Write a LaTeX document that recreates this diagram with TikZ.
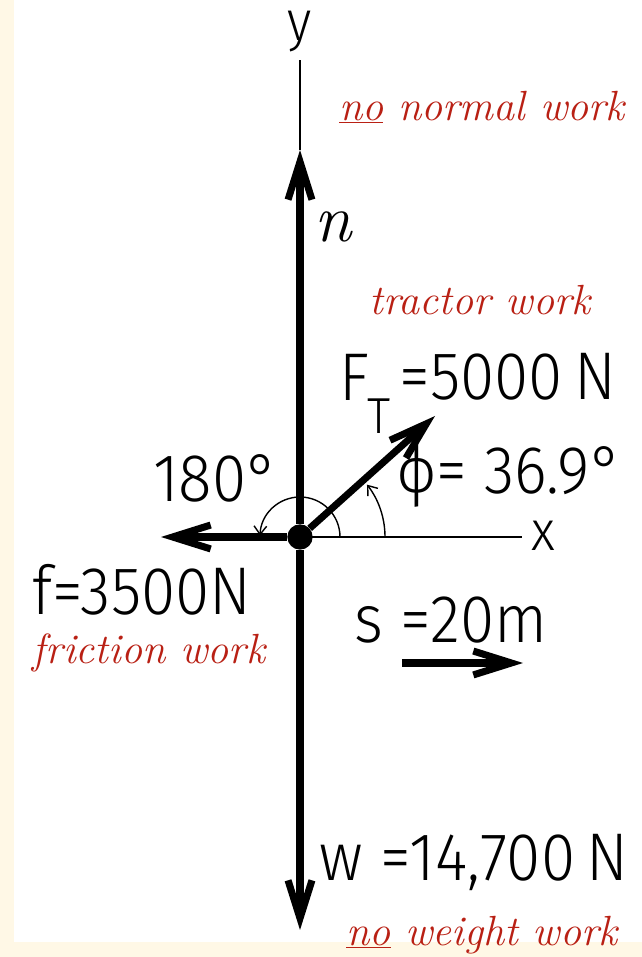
\documentclass[tikz,border=0pt]{standalone}
\usepackage{fontspec}
\usetikzlibrary{arrows.meta,positioning}
\newfontfamily\handfont{Fira Sans}[UprightFont=* Light, FakeStretch=0.92]
\definecolor{workred}{RGB}{185,32,20}
\definecolor{paper}{RGB}{255,248,230}
\newcommand\bigfont{\handfont\fontsize{48}{54}\selectfont}
\newcommand\axfont{\handfont\fontsize{40}{44}\selectfont}
\newcommand\workfont{\itshape\fontsize{30}{36}\selectfont}

\begin{document}
\begin{tikzpicture}[x=0.025cm,y=0.025cm,
    vec/.style={line width=5pt,-{Straight Barb[length=27pt,width=17pt]}},
    axis/.style={line width=1.4pt},
    angarc/.style={line width=1pt,-{Straight Barb[length=6pt,width=9pt]}},
    lbl/.style={inner sep=0pt,font=\bigfont},
    work/.style={inner sep=0pt,text=workred,font=\workfont}]
    \useasboundingbox (0,0) rectangle (642,957);
    \fill[paper] (0,0) rectangle (642,957);
    \fill[white] (14,15) rectangle (642,957);

    % origin and vector tips
    \node[circle,fill,minimum size=18pt,inner sep=0pt] (O) at (300,420) {};
    \coordinate (ytop) at (300,897);
    \coordinate (xend) at (522,420);
    \coordinate (ntip) at (300,807);
    \coordinate (wtip) at (300,27);
    \coordinate (ftip) at (161,420);
    \coordinate (Ttip) at (435,541);

    % axes
    \draw[axis] (ntip) -- (ytop);
    \draw[axis] (O.center) -- (xend);
    \node[inner sep=0pt,font=\axfont] (ylab) at (300,925) {y};
    \node[inner sep=0pt,font=\axfont] (xlab) at (543,421) {x};

    % forces
    \draw[vec] (O) -- (ntip);
    \draw[vec] (O) -- (wtip);
    \draw[vec] (O) -- (ftip);
    \draw[vec] (O) -- (Ttip);

    % angles
    \draw[angarc] ([shift={(0:85)}]O.center) arc (0:38:85);
    \draw[angarc] ([shift={(0:40)}]O.center) arc (0:178:40);

    % displacement
    \coordinate (s0) at (402,294);
    \coordinate (s1) at (523,294);
    \draw[vec] (s0) -- (s1);

    % labels
    \node[inner sep=0pt,font=\itshape\fontsize{48}{54}\selectfont] (nlab) at (333,730) {n};
    \node[lbl] (Flab) at (354,580) {F};
    \node[inner sep=0pt,font=\handfont\fontsize{36}{40}\selectfont] (Tsub) at (379,541) {T};
    \node[lbl] (FTval) at (508,580) {=5000\,N};
    \node[lbl] (philab) at (510,482) {ϕ= 36.9°};
    \node[lbl] (ang180) at (216,479) {180°};
    \node[lbl] (flab) at (142,367) {f=3500N};
    \node[lbl] (slab) at (451,337) {s =20m};
    \node[lbl] (wlab) at (474,95) {w =14,700\,N};

    \node[work] (nowork) at (482,850) {\underline{no} normal work};
    \node[work] (trwork) at (480,657) {tractor work};
    \node[work] (frwork) at (149,304) {friction work};
    \node[work] (wwork) at (482,22) {\underline{no} weight work};
\end{tikzpicture}
\end{document}
